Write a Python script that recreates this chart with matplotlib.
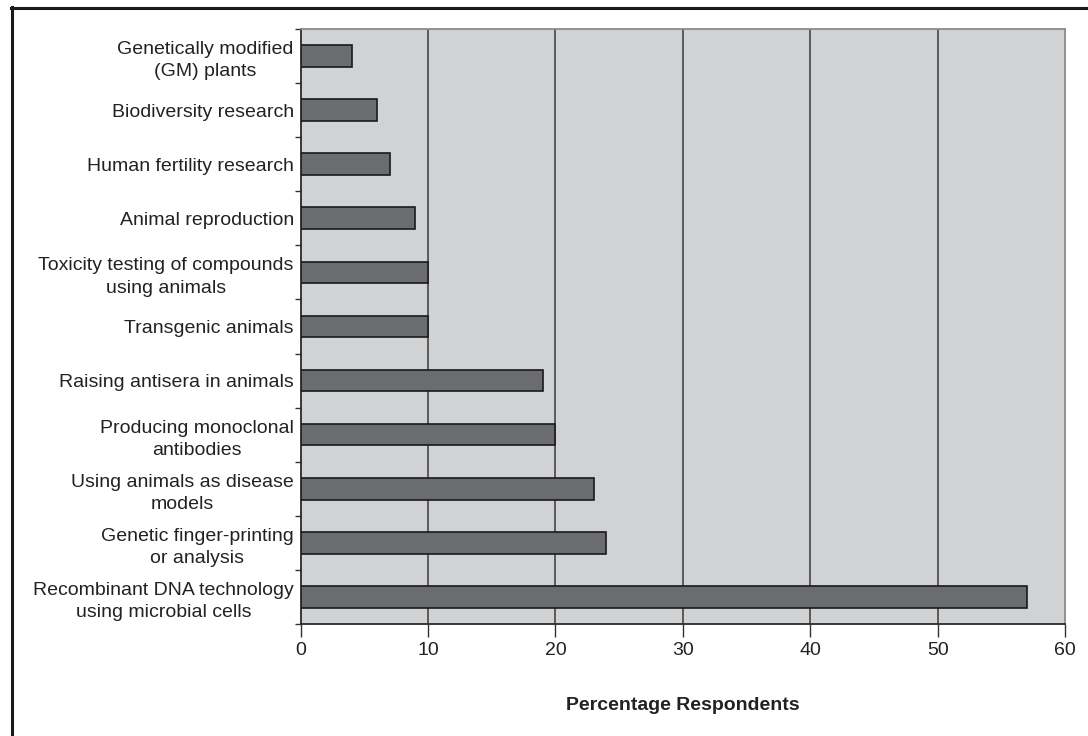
import matplotlib.pyplot as plt
from matplotlib.lines import Line2D
import numpy as np

plt.rcParams['font.family'] = ['Liberation Sans', 'DejaVu Sans']

# categories, top to bottom
categories = [
    "Genetically modified\n(GM) plants",
    "Biodiversity research",
    "Human fertility research",
    "Animal reproduction",
    "Toxicity testing of compounds\nusing animals",
    "Transgenic animals",
    "Raising antisera in animals",
    "Producing monoclonal\nantibodies",
    "Using animals as disease\nmodels",
    "Genetic finger-printing\nor analysis",
    "Recombinant DNA technology\nusing microbial cells",
]
percentages = [4, 6, 7, 9, 10, 10, 19, 20, 23, 24, 57]
x_ticks = [0, 10, 20, 30, 40, 50, 60]

fig = plt.figure(figsize=(10.88, 7.36), dpi=100)
ax = fig.add_axes([0.2764, 0.1522, 0.7025, 0.8084])
ax.set_facecolor('#d1d2d4')

y = np.arange(len(categories))
ax.barh(y, percentages, height=0.4, color='#6b6c6f', edgecolor='#1a1a1a',
        linewidth=1.2, zorder=3)

ax.set_xlim(0, 60)
ax.set_ylim(len(categories) - 0.5, -0.5)
ax.set_xticks(x_ticks)
ax.set_xticklabels([str(t) for t in x_ticks], fontsize=14, color='#222222')
for t in x_ticks[1:-1]:
    ax.axvline(t, color='#3a3a3a', linewidth=1.1, zorder=1)

ax.set_yticks(y)
ax.set_yticklabels(categories, fontsize=14, color='#222222', ha='right',
                   multialignment='center', linespacing=1.4)
ax.set_yticks(np.arange(-0.5, len(categories) + 0.5, 1), minor=True)
ax.tick_params(axis='y', which='major', length=0, pad=5)
ax.tick_params(axis='y', which='minor', length=4, width=1, color='#333333')
ax.tick_params(axis='x', length=9, width=1, color='#333333', pad=4)

for s in ['left', 'bottom']:
    ax.spines[s].set_color('#2a2a2a')
    ax.spines[s].set_linewidth(1.3)
for s in ['top', 'right']:
    ax.spines[s].set_color('#8a8a8a')
    ax.spines[s].set_linewidth(1.3)

ax.set_xlabel("Percentage Respondents", fontsize=14, fontweight='bold',
              color='#222222', labelpad=27)

# outer frame (top and left edges)
fig.add_artist(Line2D([11 / 1088, 1.0], [1 - 7.5 / 736, 1 - 7.5 / 736],
                      transform=fig.transFigure, color='#1a1a1a', linewidth=2.2))
fig.add_artist(Line2D([11.5 / 1088, 11.5 / 1088], [0.0, 1 - 7 / 736],
                      transform=fig.transFigure, color='#1a1a1a', linewidth=2.2))

fig.savefig('out.png', dpi=100)
